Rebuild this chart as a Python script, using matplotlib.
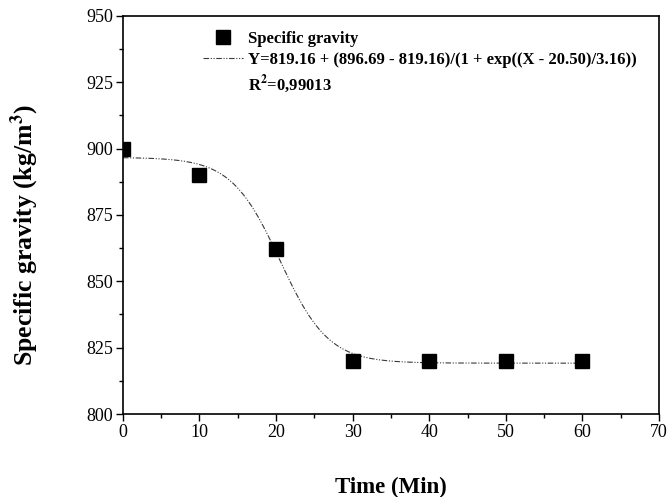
import numpy as np
import matplotlib
matplotlib.use("Agg")
import matplotlib.pyplot as plt
from matplotlib.lines import Line2D
from matplotlib.ticker import MultipleLocator

plt.rcParams['font.family'] = ['Liberation Serif', 'DejaVu Serif']
plt.rcParams['mathtext.fontset'] = 'stix'

# measured data
time_min = [0, 10, 20, 30, 40, 50, 60]
spec_grav = [900, 890, 862, 820, 820, 820, 820]

# Boltzmann fit parameters (from the legend)
A1 = 896.69
A2 = 819.16
x0 = 20.50
dx = 3.16
r2_text = "0,99013"

fig = plt.figure(figsize=(6.68, 4.97), dpi=100)
ax = fig.add_axes([0.184, 0.167, 0.8025, 0.801])

xfit = np.linspace(0, 60, 400)
yfit = A2 + (A1 - A2) / (1 + np.exp((xfit - x0) / dx))
ax.plot(xfit, yfit, color='#3a3a3a', lw=0.8, dashes=(5, 1.5, 1, 1.5, 1, 1.5))
ax.plot(time_min, spec_grav, 's', color='black', ms=10, zorder=3)

ax.set_xlim(0, 70)
ax.set_ylim(800, 950)
ax.xaxis.set_major_locator(MultipleLocator(10))
ax.xaxis.set_minor_locator(MultipleLocator(5))
ax.yaxis.set_major_locator(MultipleLocator(25))
ax.yaxis.set_minor_locator(MultipleLocator(12.5))
ax.tick_params(which='major', direction='out', length=5, width=1, labelsize=13, pad=2)
ax.tick_params(which='minor', direction='out', length=3, width=1)
for s in ax.spines.values():
    s.set_linewidth(1.2)

ax.set_xlabel('Time (Min)', fontsize=16.5, fontweight='bold', labelpad=26)
ax.set_ylabel('Specific gravity (kg/m$^\\mathbf{3}$)', fontsize=18.5, fontweight='bold')
ax.yaxis.set_label_coords(-0.152, 0.45)

h1 = Line2D([], [], marker='s', ls='none', color='black', ms=10)
h2 = Line2D([], [], color='#3a3a3a', lw=0.8, dashes=(5, 1.5, 1, 1.5, 1, 1.5))
h3 = Line2D([], [], ls='none')
labels = ['Specific gravity',
          'Y=%.2f + (%.2f - %.2f)/(1 + exp((X - %.2f)/%.2f))' % (A2, A1, A2, x0, dx),
          'R$^\\mathbf{2}$=' + r2_text]
leg = ax.legend([h1, h2, h3], labels, loc='upper left', bbox_to_anchor=(0.122, 1.0),
                frameon=False, handlelength=2.4, handletextpad=0.3, labelspacing=0.3,
                prop={'weight': 'bold', 'size': 12})

fig.savefig('out.png', dpi=100)
